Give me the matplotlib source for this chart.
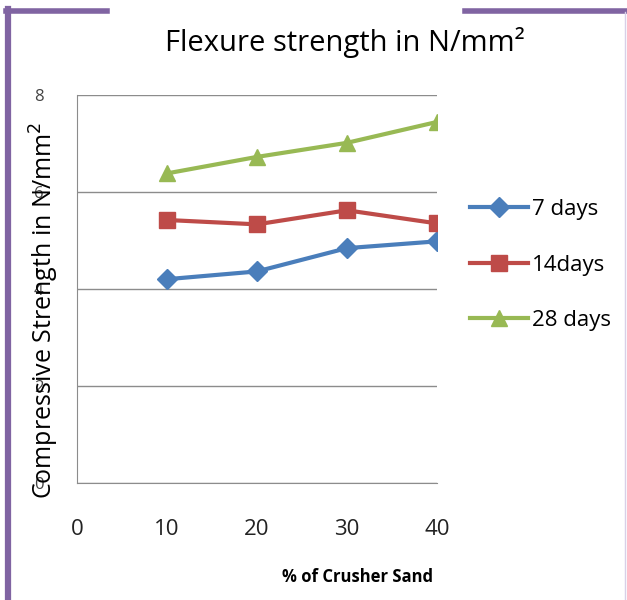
import numpy as np
import matplotlib.pyplot as plt
from matplotlib.lines import Line2D

# data
sand = [10, 20, 30, 40]
days7 = [4.2, 4.36, 4.84, 4.98]
days14 = [5.42, 5.33, 5.62, 5.35]
days28 = [6.38, 6.72, 7.01, 7.44]
labels = ['7 days', '14days', '28 days']
colors = ['#4a7ebb', '#be4b48', '#98b954']
markers = ['D', 's', '^']

plt.rcParams['font.family'] = ['Open Sans', 'DejaVu Sans']

fig = plt.figure(figsize=(6.27, 6.0), dpi=100)
ax = fig.add_axes([0.1228, 0.195, 0.574, 0.647])

sizes = [10, 11, 12]
for y, lab, c, m, s in zip([days7, days14, days28], labels, colors, markers, sizes):
    ax.plot(sand, y, color=c, lw=3, marker=m, ms=s, label=lab)

ax.set_xlim(0, 40)
ax.set_ylim(0, 8)
ax.set_xticks([0, 10, 20, 30, 40])
ax.set_yticks([0, 2, 4, 6, 8])
ax.grid(axis='y', color='#8c8c8c', lw=1)
ax.set_axisbelow(True)
for s in ['top', 'right']:
    ax.spines[s].set_visible(False)
for s in ['left', 'bottom']:
    ax.spines[s].set_color('#8c8c8c')
ax.tick_params(axis='x', length=0, pad=26, labelsize=16, colors='#222222')
ax.tick_params(axis='y', length=0, pad=24, labelsize=12, colors='#444444')

ax.set_ylabel('Compressive Strength in N/mm$^2$', fontsize=18)
ax.yaxis.set_label_coords(-0.045, 0.445)
ax.set_xlabel('% of Crusher Sand', fontsize=12, fontweight='bold')
ax.xaxis.set_label_coords(0.78, -0.218)

fig.text(0.55, 0.93, 'Flexure strength in N/mm²', fontsize=21, ha='center', va='center')

fig.legend(loc='center left', bbox_to_anchor=(0.718, 0.558), frameon=False,
           fontsize=16, handlelength=2.6, handletextpad=0.2, labelspacing=1.55)

# frame around the chart
purple = '#8064a2'
fig.add_artist(Line2D([0.013, 0.013], [0, 0.985], color=purple, lw=4.5, transform=fig.transFigure))
fig.add_artist(Line2D([0.01, 0.17], [0.982, 0.982], color=purple, lw=4, transform=fig.transFigure))
fig.add_artist(Line2D([0.742, 1.0], [0.982, 0.982], color=purple, lw=4, transform=fig.transFigure))
fig.add_artist(Line2D([0.997, 0.997], [0, 0.98], color='#d8d0e8', lw=1, transform=fig.transFigure))

fig.savefig('out.png', dpi=100)
